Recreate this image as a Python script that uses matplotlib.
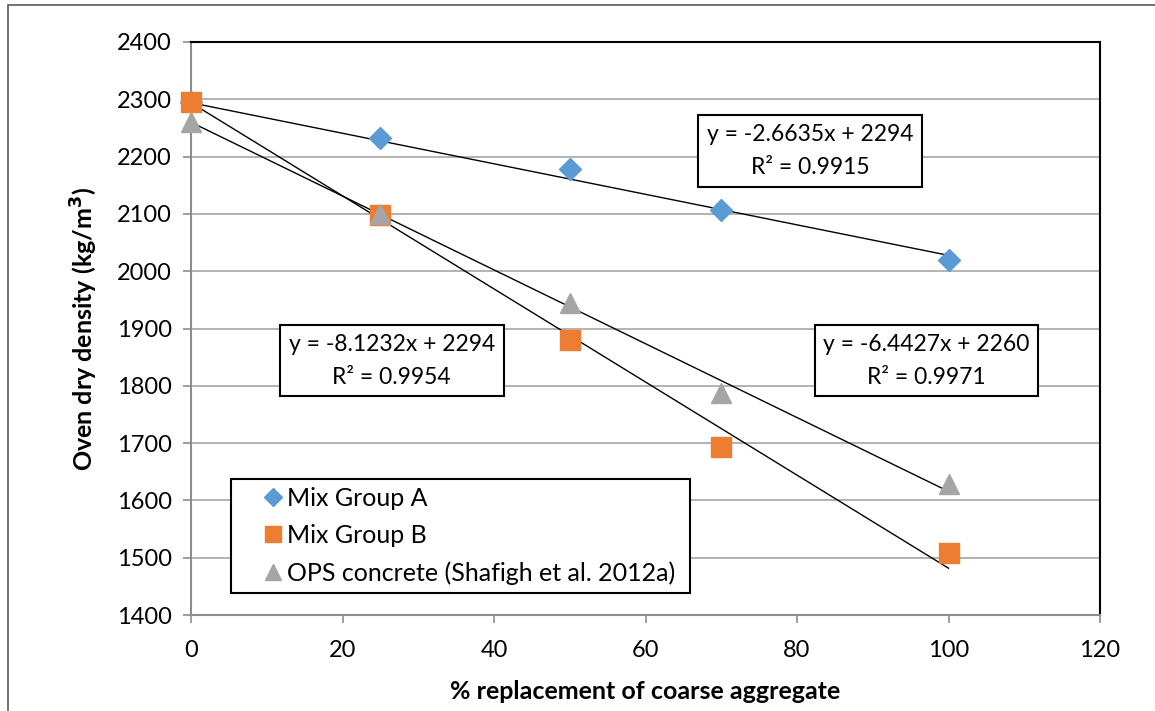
import numpy as np
import matplotlib.pyplot as plt
from matplotlib.patches import Rectangle
from matplotlib.legend_handler import HandlerLine2D

# Data
replacement = [0, 25, 50, 70, 100]
group_a = [2295, 2232, 2178, 2106, 2020]
group_b = [2295, 2098, 1880, 1693, 1508]
ops = [2260, 2100, 1945, 1787, 1628]

# Linear trendlines (slope, intercept) as shown on the chart
fit_a = (-2.6635, 2294)
fit_b = (-8.1232, 2294)
fit_ops = (-6.4427, 2260)

plt.rcParams['font.family'] = ['Lato', 'DejaVu Sans']

fig = plt.figure(figsize=(11.55, 7.11), dpi=100)
ax = fig.add_axes([191 / 1155, 1 - 615 / 711, (1100 - 191) / 1155, (615 - 42) / 711])

# outer chart border
fig.patches.append(Rectangle((8 / 1155, -0.1), 1.2, 1 - 5 / 711 + 0.1,
                             transform=fig.transFigure, fill=False,
                             edgecolor='#595959', linewidth=1.2))

xx = np.array([0, 100])
for slope, icpt in (fit_a, fit_b, fit_ops):
    ax.plot(xx, slope * xx + icpt, color='black', linewidth=1, zorder=2)

la, = ax.plot(replacement, group_a, linestyle='none', marker='D', markersize=11,
              color='#5B9BD5', label='Mix Group A', zorder=3, clip_on=False)
lb, = ax.plot(replacement, group_b, linestyle='none', marker='s', markersize=14,
              color='#ED7D31', label='Mix Group B', zorder=3, clip_on=False)
lo, = ax.plot(replacement, ops, linestyle='none', marker='^', markersize=14,
              color='#A5A5A5', label='OPS concrete (Shafigh et al. 2012a)', zorder=3, clip_on=False)

ax.set_xlim(0, 120)
ax.set_ylim(1400, 2400)
ax.set_xticks(range(0, 121, 20))
ax.set_yticks(range(1400, 2401, 100))
ax.grid(axis='y', color='#A6A6A6', linewidth=1.2)
ax.set_axisbelow(True)
ax.tick_params(labelsize=17, color='#8C8C8C', length=6, direction='out', width=1.2)
ax.tick_params(axis='x', pad=12)
ax.tick_params(axis='y', pad=8)
for side in ('left', 'bottom'):
    ax.spines[side].set_color('#8C8C8C')
    ax.spines[side].set_linewidth(1.5)
for side in ('top', 'right'):
    ax.spines[side].set_color('black')
    ax.spines[side].set_linewidth(1.5)

ax.set_xlabel('% replacement of coarse aggregate', fontsize=18, fontweight='bold', labelpad=14)
ax.set_ylabel('Oven dry density (kg/m$^\\mathbf{3}$)', fontsize=18, fontweight='bold', labelpad=12)

box = dict(boxstyle='square,pad=0.38', facecolor='white', edgecolor='black', linewidth=1.5)
eq_kw = dict(fontsize=16.5, ha='center', va='center', linespacing=1.7, bbox=box, zorder=4)
ax.text(81.7, 2210, 'y = -2.6635x + 2294\nR² = 0.9915', **eq_kw)
ax.text(26.5, 1844, 'y = -8.1232x + 2294\nR² = 0.9954', **eq_kw)
ax.text(97.1, 1844, 'y = -6.4427x + 2260\nR² = 0.9971', **eq_kw)

hmap = {h: HandlerLine2D(xpad=1.02) for h in (la, lb, lo)}
leg = ax.legend(handles=[la, lb, lo], handler_map=hmap, loc='lower left', mode='expand',
                bbox_to_anchor=((231 - 191) / 909, (615 - 593) / 573, (690 - 231) / 909, 0.1),
                fontsize=18, frameon=True, fancybox=False, edgecolor='black',
                borderpad=0.33, handlelength=1.66, handletextpad=0.24, labelspacing=0.56,
                markerscale=0.85, borderaxespad=0)
leg.get_frame().set_linewidth(1.5)
leg.get_frame().set_alpha(1)

fig.savefig('out.png', dpi=100)
